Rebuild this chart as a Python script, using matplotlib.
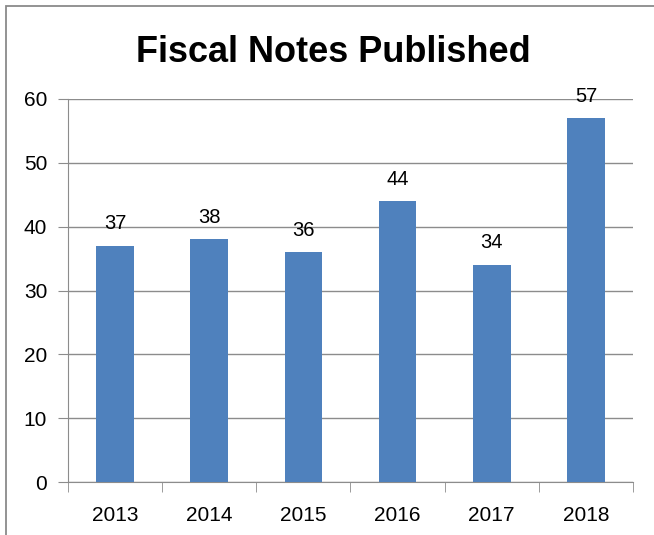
import matplotlib.pyplot as plt
from matplotlib.patches import Rectangle

years = ['2013', '2014', '2015', '2016', '2017', '2018']
notes = [37, 38, 36, 44, 34, 57]

plt.rcParams['font.family'] = ['Liberation Sans', 'DejaVu Sans']

fig = plt.figure(figsize=(6.54, 5.35), dpi=100)
ax = fig.add_axes([68 / 654, 1 - 482 / 535, 565 / 654, 383 / 535])

# outer chart border, only left and top show in the crop
fig.patches.append(Rectangle((6 / 654, -0.1), 1.2, 1 - 6 / 535 + 0.1,
                             transform=fig.transFigure, fill=False,
                             edgecolor='#8a8a8a', linewidth=1.3))

x = list(range(len(years)))
bars = ax.bar(x, notes, width=0.4, color='#4F81BD', zorder=3)
for b, v in zip(bars, notes):
    ax.annotate(str(v), (b.get_x() + b.get_width() / 2, v), xytext=(0, 9),
                textcoords='offset points', ha='center', va='bottom', fontsize=14.5)

ax.set_xlim(-0.5, len(years) - 0.5)
ax.set_ylim(0, 60)
ax.set_yticks(range(0, 61, 10))
ax.yaxis.grid(True, color='#8c8c8c', linewidth=1)
ax.set_axisbelow(True)

ax.set_xticks(x)
ax.set_xticklabels(years)
ax.set_xticks([i - 0.5 for i in range(len(years) + 1)], minor=True)
ax.tick_params(axis='x', which='major', length=0, pad=17, labelsize=15)
ax.tick_params(axis='x', which='minor', length=7, color='#8c8c8c')
ax.tick_params(axis='y', length=7, color='#8c8c8c', labelsize=15, pad=8)

for s in ['top', 'right']:
    ax.spines[s].set_visible(False)
ax.spines['left'].set_color('#8c8c8c')
ax.spines['bottom'].set_color('#8c8c8c')

fig.text(333 / 654, 1 - 52 / 535, 'Fiscal Notes Published', ha='center', va='center',
         fontsize=26, fontweight='bold')

fig.savefig('out.png')
